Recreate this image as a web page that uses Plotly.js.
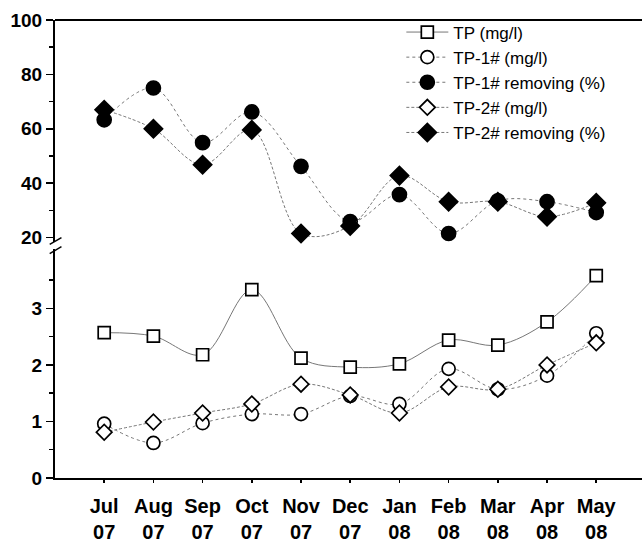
<!DOCTYPE html>
<html>
<head>
<meta charset="utf-8">
<script src="https://cdn.plot.ly/plotly-3.0.1.min.js"></script>
<style>
  html, body { margin: 0; padding: 0; background: #fff; }
  #chart { width: 642px; height: 543px; }
</style>
</head>
<body>
<div id="chart"></div>
<script>
// Monthly sampling, Jul 2007 – May 2008
const months = ['Jul<br>07', 'Aug<br>07', 'Sep<br>07', 'Oct<br>07', 'Nov<br>07', 'Dec<br>07',
                'Jan<br>08', 'Feb<br>08', 'Mar<br>08', 'Apr<br>08', 'May<br>08'];

// Total phosphorus concentrations (mg/l), lower panel
const tpInfluent = [2.57, 2.51, 2.18, 3.33, 2.12, 1.96, 2.02, 2.44, 2.35, 2.76, 3.58];
const tp1Effluent = [0.96, 0.62, 0.97, 1.13, 1.13, 1.45, 1.31, 1.93, 1.57, 1.81, 2.56];
const tp2Effluent = [0.81, 0.99, 1.15, 1.31, 1.66, 1.47, 1.15, 1.61, 1.57, 2.00, 2.39];

// Removal efficiencies (%), upper panel
const tp1Removal = [63.3, 75.0, 54.9, 66.2, 46.2, 25.9, 35.8, 21.5, 33.5, 33.2, 29.2];
const tp2Removal = [67.0, 60.0, 46.8, 59.6, 21.5, 24.3, 42.8, 33.2, 33.2, 27.7, 32.8];

// Axis tick values
const lowerTicks = [0, 1, 2, 3];
const lowerMinor = [0.5, 1.5, 2.5, 3.5];
const upperTicks = [20, 40, 60, 80, 100];
const upperMinor = [30, 50, 70, 90];
const longTickMonths = [months[1], months[3], months[5], months[7], months[9]];

const lineGrey = '#777777';

function series(name, y, yaxis, symbol, hollow, size, dash, group) {
  return {
    type: 'scatter', mode: 'lines+markers', name: name,
    x: months, y: y, xaxis: 'x', yaxis: yaxis,
    legendgroup: group,
    line: { color: lineGrey, width: 1, dash: dash, shape: 'spline', smoothing: 1 },
    marker: {
      symbol: symbol, size: size,
      color: hollow ? '#ffffff' : '#000000',
      line: { color: '#000000', width: 1.7 }
    },
    cliponaxis: false
  };
}

const data = [
  series('TP (mg/l)', tpInfluent, 'y', 'square', true, 12, 'solid', 'a'),
  series('TP-1# (mg/l)', tp1Effluent, 'y', 'circle', true, 13, 'dot', 'b'),
  series('TP-1# removing (%)', tp1Removal, 'y2', 'circle', false, 14, 'dot', 'c'),
  series('TP-2# (mg/l)', tp2Effluent, 'y', 'diamond', true, 12, '3px,2px', 'd'),
  series('TP-2# removing (%)', tp2Removal, 'y2', 'diamond', false, 14, '3px,2px', 'e')
];

const tickFont = { family: 'Liberation Sans, Arial, sans-serif', size: 19, color: '#000' };

const layout = {
  width: 642, height: 543,
  margin: { l: 55, r: 0, t: 20, b: 65 },
  paper_bgcolor: '#ffffff', plot_bgcolor: 'rgba(0,0,0,0)',
  showlegend: true,
  legend: {
    x: 0.59, y: 1.012, xanchor: 'left', yanchor: 'top',
    bgcolor: 'rgba(0,0,0,0)', borderwidth: 0,
    font: { family: 'Liberation Sans, Arial, sans-serif', size: 17, color: '#000' },
    itemwidth: 42, tracegroupgap: 0, traceorder: 'normal'
  },
  xaxis: {
    type: 'category', range: [-1, 10.93], anchor: 'y',
    showline: true, linecolor: '#000', linewidth: 2,
    ticks: 'outside', ticklen: 3, tickwidth: 1.5, tickcolor: '#000',
    ticklabelstandoff: 6,
    showgrid: false, zeroline: false,
    tickfont: { family: 'Liberation Sans, Arial, sans-serif', size: 20, color: '#000', weight: 'bold' },
    fixedrange: true
  },
  xaxis2: {
    type: 'category', range: [-1, 10.93], overlaying: 'x', anchor: 'y', side: 'bottom',
    showline: false, showgrid: false, zeroline: false,
    tickmode: 'array', tickvals: longTickMonths, ticktext: ['', '', '', '', ''],
    ticks: 'outside', ticklen: 7, tickwidth: 1.5, tickcolor: '#000',
    showticklabels: false
  },
  yaxis: {
    domain: [0, 0.5], range: [0, 4.05], anchor: 'x',
    showline: true, linecolor: '#000', linewidth: 2,
    tickmode: 'array', tickvals: lowerTicks,
    ticks: 'outside', ticklen: 7, tickwidth: 1.5, tickcolor: '#000',
    minor: { tickmode: 'array', tickvals: lowerMinor, ticks: 'outside', ticklen: 4, tickwidth: 1.5, tickcolor: '#000' },
    showgrid: false, zeroline: false,
    tickfont: Object.assign({ weight: 'bold' }, tickFont)
  },
  yaxis2: {
    domain: [0.516, 1], range: [18.5, 100], anchor: 'x',
    showline: true, linecolor: '#000', linewidth: 2,
    tickmode: 'array', tickvals: upperTicks,
    ticks: 'outside', ticklen: 7, tickwidth: 1.5, tickcolor: '#000',
    minor: { tickmode: 'array', tickvals: upperMinor, ticks: 'outside', ticklen: 4, tickwidth: 1.5, tickcolor: '#000' },
    showgrid: false, zeroline: false,
    tickfont: Object.assign({ weight: 'bold' }, tickFont)
  },
  shapes: [
    // top frame line
    { type: 'line', xref: 'paper', yref: 'paper', x0: 0, x1: 1, y0: 1, y1: 1,
      line: { color: '#000', width: 2 } },
    // axis-break marks
    { type: 'line', xref: 'paper', yref: 'paper', x0: -0.009, x1: 0.011, y0: 0.51, y1: 0.525,
      line: { color: '#000', width: 1.5 } },
    { type: 'line', xref: 'paper', yref: 'paper', x0: -0.009, x1: 0.011, y0: 0.49, y1: 0.505,
      line: { color: '#000', width: 1.5 } }
  ]
};

// empty trace that carries the longer alternate x ticks
data.push({
  type: 'scatter', x: [months[0]], y: [null], xaxis: 'x2', yaxis: 'y',
  showlegend: false, hoverinfo: 'skip'
});

Plotly.newPlot('chart', data, layout, { displayModeBar: false, staticPlot: true });
</script>
</body>
</html>
